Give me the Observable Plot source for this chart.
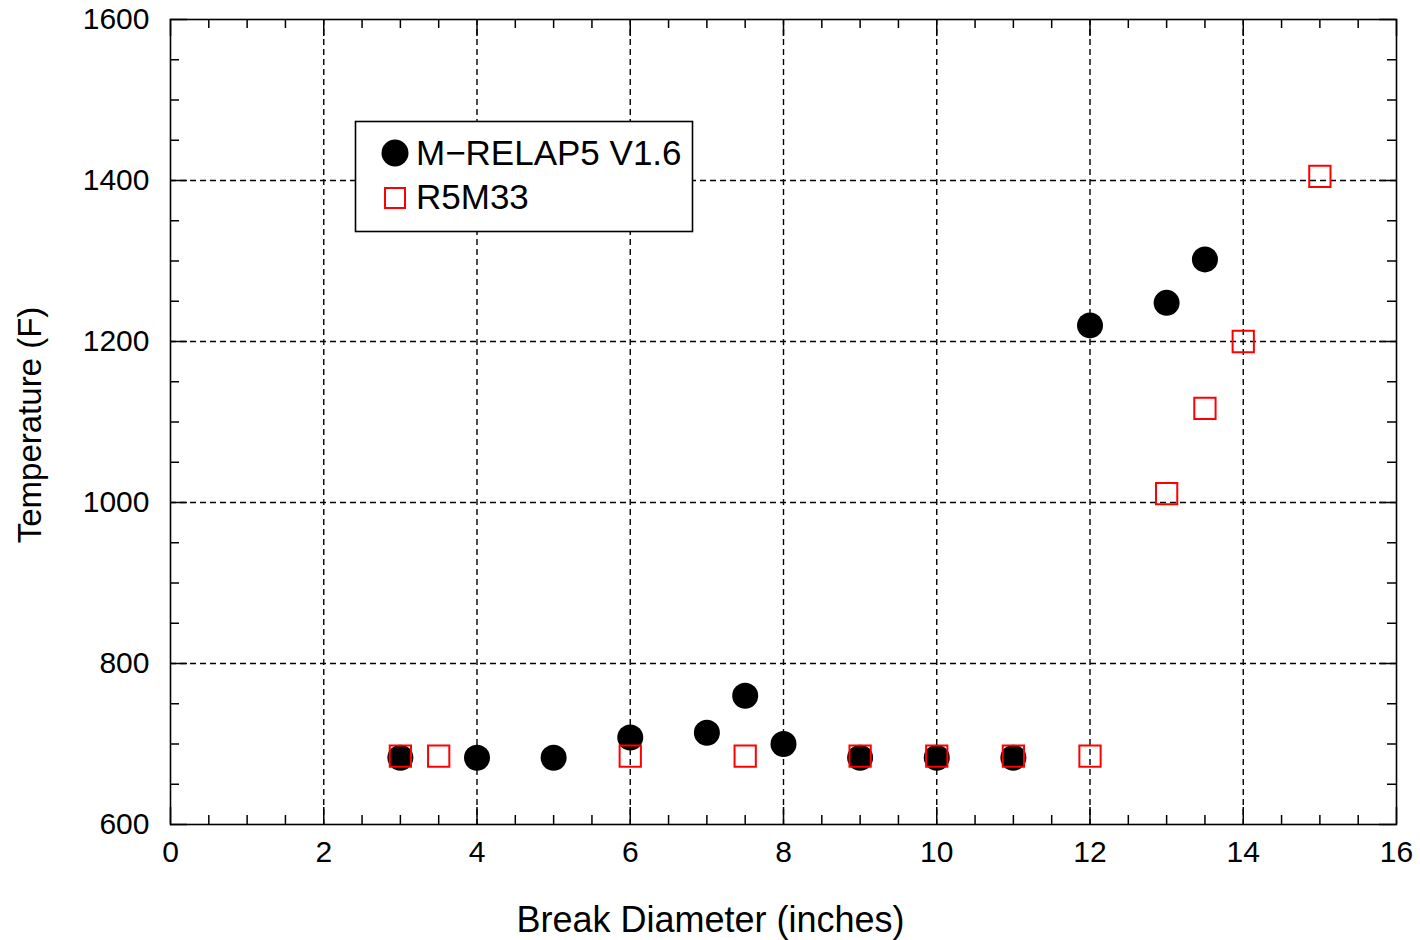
<!DOCTYPE html>
<html>
<head>
<meta charset="utf-8">
<script src="https://cdn.jsdelivr.net/npm/d3@7"></script>
<script src="https://cdn.jsdelivr.net/npm/@observablehq/plot@0.6"></script>
<style>
  html, body { margin: 0; padding: 0; background: #fff; }
  #wrap { position: relative; width: 1420px; height: 940px; }
  #legend { position: absolute; left: 0; top: 0; pointer-events: none; }
</style>
</head>
<body>
<div id="wrap"></div>
<script>
// Peak cladding temperature versus break diameter, two code versions
const mrelapDiameter = [3, 4, 5, 6, 7, 7.5, 8, 9, 10, 11, 12, 13, 13.5];
const mrelapTemp     = [683, 683, 683, 708, 714, 760, 700, 683, 683, 683, 1220, 1248, 1302];

const r5m33Diameter  = [3, 3.5, 6, 7.5, 9, 10, 11, 12, 13, 13.5, 14, 15];
const r5m33Temp      = [685, 685, 685, 685, 685, 685, 685, 685, 1011, 1117, 1200, 1405];

const seriesNames = ["M\u2212RELAP5 V1.6", "R5M33"];

// Axis ticks
const xMajor = [0, 2, 4, 6, 8, 10, 12, 14, 16];
const xMinor = d3.range(0.5, 16, 0.5).filter(v => v % 2 !== 0);
const yMajor = [600, 800, 1000, 1200, 1400, 1600];
const yMinor = d3.range(650, 1600, 50).filter(v => v % 200 !== 0);
const xGrid = [2, 4, 6, 8, 10, 12, 14];
const yGrid = [800, 1000, 1200, 1400];

const mrelap = mrelapDiameter.map((d, i) => ({d, t: mrelapTemp[i]}));
const r5m33 = r5m33Diameter.map((d, i) => ({d, t: r5m33Temp[i]}));

const W = 1420, H = 940;
const mL = 170, mR = 24, mT = 19, mB = 116;
const innerW = W - mL - mR, innerH = H - mT - mB;
const minorLen = 9, majorLen = 17;
const font = "'Liberation Sans', Arial, sans-serif";

const chart = Plot.plot({
  width: W,
  height: H,
  marginLeft: mL,
  marginRight: mR,
  marginTop: mT,
  marginBottom: mB,
  style: {fontFamily: font, fontSize: "30px", color: "#000", background: "#fff"},
  x: {domain: [0, 16], label: null},
  y: {domain: [600, 1600], label: null},
  marks: [
    // dashed grid
    Plot.ruleX(xGrid, {x: d => d, stroke: "#000", strokeWidth: 1.4, strokeDasharray: "6,4"}),
    Plot.ruleY(yGrid, {y: d => d, stroke: "#000", strokeWidth: 1.4, strokeDasharray: "6,4"}),
    // inward ticks on all four sides
    Plot.tickX(xMinor, {x: d => d, insetTop: innerH - minorLen, stroke: "#000", strokeWidth: 1.5}),
    Plot.tickX(xMinor, {x: d => d, insetBottom: innerH - minorLen, stroke: "#000", strokeWidth: 1.5}),
    Plot.tickX(xMajor, {x: d => d, insetTop: innerH - majorLen, stroke: "#000", strokeWidth: 1.5}),
    Plot.tickX(xMajor, {x: d => d, insetBottom: innerH - majorLen, stroke: "#000", strokeWidth: 1.5}),
    Plot.tickY(yMinor, {y: d => d, insetRight: innerW - minorLen, stroke: "#000", strokeWidth: 1.5}),
    Plot.tickY(yMinor, {y: d => d, insetLeft: innerW - minorLen, stroke: "#000", strokeWidth: 1.5}),
    Plot.tickY(yMajor, {y: d => d, insetRight: innerW - majorLen, stroke: "#000", strokeWidth: 1.5}),
    Plot.tickY(yMajor, {y: d => d, insetLeft: innerW - majorLen, stroke: "#000", strokeWidth: 1.5}),
    Plot.frame({stroke: "#000", strokeWidth: 1.6}),
    // tick labels
    Plot.axisX({ticks: xMajor, tickSize: 0, tickPadding: 16, label: null, fontSize: 30, tickFormat: d => String(d)}),
    Plot.axisY({ticks: yMajor, tickSize: 0, tickPadding: 21, label: null, fontSize: 30, tickFormat: d => String(d)}),
    // axis titles
    Plot.text(["Break Diameter (inches)"], {frameAnchor: "bottom", textAnchor: "middle", lineAnchor: "middle", dx: -73, dy: 96, fontSize: 36, fill: "#000"}),
    Plot.text(["Temperature (F)"], {frameAnchor: "left", textAnchor: "middle", lineAnchor: "middle", rotate: -90, dx: -140, dy: 3, fontSize: 33, fill: "#000"}),
    // data
    Plot.dot(mrelap, {x: "d", y: "t", r: 13, fill: "#000", stroke: "none"}),
    Plot.dot(r5m33, {x: "d", y: "t", r: 12, symbol: "square", fill: "none", stroke: "#ff0000", strokeWidth: 2})
  ]
});

const wrap = document.getElementById("wrap");
wrap.appendChild(chart);

// Legend box overlaid in the upper-left of the plot area
const legend = d3.select(wrap).append("svg")
  .attr("id", "legend")
  .attr("width", W)
  .attr("height", H);

legend.append("rect")
  .attr("x", 355.5).attr("y", 121.5)
  .attr("width", 337).attr("height", 110)
  .attr("fill", "#fff").attr("stroke", "#000").attr("stroke-width", 1.6);

legend.append("circle")
  .attr("cx", 395).attr("cy", 153).attr("r", 13.5)
  .attr("fill", "#000");

legend.append("rect")
  .attr("x", 385).attr("y", 188).attr("width", 20).attr("height", 20)
  .attr("fill", "none").attr("stroke", "#ff0000").attr("stroke-width", 2);

legend.selectAll("text.entry")
  .data(seriesNames)
  .join("text")
  .attr("class", "entry")
  .attr("x", 416)
  .attr("y", (d, i) => i === 0 ? 165 : 209)
  .attr("font-family", font)
  .attr("font-size", 35)
  .attr("fill", "#000")
  .text(d => d);
</script>
</body>
</html>
